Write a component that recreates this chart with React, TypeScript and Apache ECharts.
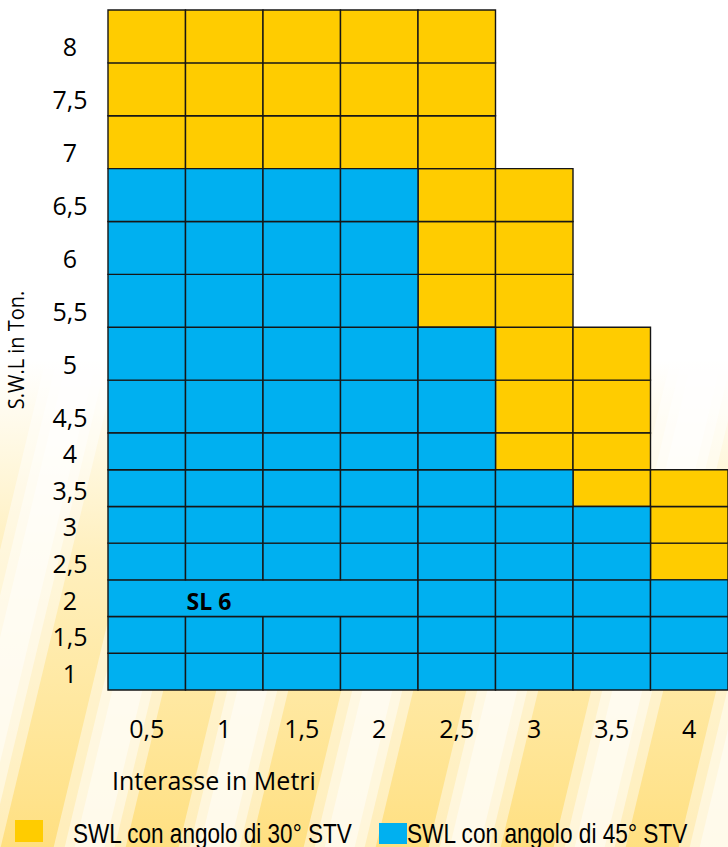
import React, { useEffect, useRef } from "react";
import * as echarts from "echarts";

// ---- data ----
const intervals = ["0,5", "1", "1,5", "2", "2,5", "3", "3,5", "4"];
const levels = [1, 1.5, 2, 2.5, 3, 3.5, 4, 4.5, 5, 5.5, 6, 6.5, 7, 7.5, 8];
const levelLabels = ["1", "1,5", "2", "2,5", "3", "3,5", "4", "4,5", "5", "5,5", "6", "6,5", "7", "7,5", "8"];
// highest SWL (t) per interval for each sling angle
const maxSwl45 = [6.5, 6.5, 6.5, 6.5, 5, 3.5, 3, 2];
const maxSwl30 = [8, 8, 8, 8, 8, 6.5, 5, 3.5];
// merged cell
const mergedLevel = 2;
const mergedCols = [0, 3];
const mergedLabel = "SL 6";
const seriesNames = ["SWL con angolo di 30° STV", "SWL con angolo di 45° STV"];
const axisNames = { x: "Interasse in Metri", y: "S.W.L in Ton." };

// ---- layout / style ----
const YELLOW = "#FFCC00";
const BLUE = "#00B0F0";
const LINE = "#161616";
const FONT = "'Open Sans', sans-serif";
const NARROW = "'Liberation Sans', Arial, sans-serif";
const TALL_FROM = 4.5; // rows from this level up are drawn taller

const topRows = levels.map((_, i) => i).filter((i) => levels[i] >= TALL_FROM);
const botRows = levels.map((_, i) => i).filter((i) => levels[i] < TALL_FROM);

function buildCells(rows: number[], kind: "30" | "45") {
  const out: any[] = [];
  rows.forEach((li, r) => {
    const L = levels[li];
    for (let c = 0; c < intervals.length; c++) {
      const k = L <= maxSwl45[c] ? "45" : L <= maxSwl30[c] ? "30" : null;
      if (k !== kind) continue;
      if (L === mergedLevel && c >= mergedCols[0] && c <= mergedCols[1]) {
        if (c === mergedCols[0]) out.push([mergedCols[0], r, mergedCols[1], 1]);
        continue;
      }
      out.push([c, r, c, 0]);
    }
  });
  return out;
}

const renderCell = (params: any, api: any) => {
  const c0 = api.value(0);
  const r = api.value(1);
  const c1 = api.value(2);
  const hasLabel = api.value(3) === 1;
  const p0 = api.coord([c0, r]);
  const p1 = api.coord([c1, r]);
  const size = api.size([1, 1]);
  const x = p0[0] - size[0] / 2;
  const y = p0[1] - size[1] / 2;
  const w = p1[0] - p0[0] + size[0];
  const children: any[] = [
    {
      type: "rect",
      shape: { x, y, width: w, height: size[1] },
      style: { fill: api.visual("color"), stroke: LINE, lineWidth: 1.4 },
    },
  ];
  if (hasLabel) {
    children.push({
      type: "text",
      x: x + size[0] + 1,
      y: p0[1] + 3,
      style: {
        text: mergedLabel,
        fill: "#000",
        font: `bold 23px ${FONT}`,
        align: "left",
        verticalAlign: "middle",
      },
    });
  }
  return { type: "group", children };
};

function bgGraphics() {
  const els: any[] = [
    { type: "rect", z: -20, shape: { x: 0, y: 0, width: 728, height: 847 }, style: { fill: "#ffffff" } },
    {
      type: "rect",
      z: -19,
      shape: { x: 0, y: 360, width: 728, height: 487 },
      style: {
        fill: new echarts.graphic.LinearGradient(0, 0, 0, 1, [
          { offset: 0, color: "rgba(255,226,130,0)" },
          { offset: 0.4, color: "rgba(255,224,125,0.5)" },
          { offset: 1, color: "rgba(255,220,115,0.9)" },
        ]),
      },
    },
  ];
  const slope = 0.24;
  const y0 = 360;
  const y1 = 847;
  for (let cx = -250; cx <= 1000; cx += 125) {
    [72, 50, 30].forEach((wd, k) => {
      const xt = cx + (700 - y0) * slope;
      const xb = cx + (700 - y1) * slope;
      els.push({
        type: "polygon",
        z: -18 + k,
        shape: {
          points: [
            [xt - wd / 2, y0],
            [xt + wd / 2, y0],
            [xb + wd / 2, y1],
            [xb - wd / 2, y1],
          ],
        },
        style: { fill: "rgba(255,255,255,0.45)" },
      });
    });
  }
  return els;
}

export default function App() {
  const ref = useRef<HTMLDivElement>(null);
  useEffect(() => {
    document.body.style.margin = "0";
    const chart = echarts.init(ref.current!, null, { renderer: "svg" });
    const labelBase = { fontSize: 25, fontFamily: FONT, color: "#000", interval: 0 };
    const option: any = {
      animation: false,
      backgroundColor: "transparent",
      grid: [
        { left: 108, top: 10, width: 626, height: 423 },
        { left: 108, top: 433, width: 626, height: 257 },
      ],
      xAxis: [
        { type: "category", gridIndex: 0, data: intervals, show: false },
        {
          type: "category",
          gridIndex: 1,
          data: intervals,
          axisLine: { show: false },
          axisTick: { show: false },
          splitLine: { show: false },
          axisLabel: { ...labelBase, margin: 38, verticalAlign: "middle" },
        },
      ],
      yAxis: [
        {
          type: "category",
          gridIndex: 0,
          data: topRows.map((i) => levelLabels[i]),
          axisLine: { show: false },
          axisTick: { show: false },
          splitLine: { show: false },
          axisLabel: { ...labelBase, align: "center", margin: 38, verticalAlign: "top", lineHeight: 20 },
        },
        {
          type: "category",
          gridIndex: 1,
          data: botRows.map((i) => levelLabels[i]),
          axisLine: { show: false },
          axisTick: { show: false },
          splitLine: { show: false },
          axisLabel: { ...labelBase, align: "center", margin: 38, verticalAlign: "top", lineHeight: 3 },
        },
      ],
      series: [
        { type: "custom", name: seriesNames[0], xAxisIndex: 0, yAxisIndex: 0, itemStyle: { color: YELLOW }, renderItem: renderCell, data: buildCells(topRows, "30"), z: 3 },
        { type: "custom", name: seriesNames[1], xAxisIndex: 0, yAxisIndex: 0, itemStyle: { color: BLUE }, renderItem: renderCell, data: buildCells(topRows, "45"), z: 3 },
        { type: "custom", name: seriesNames[0], xAxisIndex: 1, yAxisIndex: 1, itemStyle: { color: YELLOW }, renderItem: renderCell, data: buildCells(botRows, "30"), z: 3 },
        { type: "custom", name: seriesNames[1], xAxisIndex: 1, yAxisIndex: 1, itemStyle: { color: BLUE }, renderItem: renderCell, data: buildCells(botRows, "45"), z: 4 },
      ],
      graphic: [
        ...bgGraphics(),
        {
          type: "text",
          z: 50,
          x: 16,
          y: 350,
          rotation: Math.PI / 2,
          scaleX: 0.95,
          style: { text: axisNames.y, font: `21px ${FONT}`, fill: "#000", align: "center", verticalAlign: "middle" },
        },
        {
          type: "text",
          z: 50,
          x: 112,
          y: 780,
          style: { text: axisNames.x, font: `25px ${FONT}`, fill: "#000", align: "left", verticalAlign: "middle" },
        },
        { type: "rect", z: 50, shape: { x: 15, y: 820, width: 28, height: 22 }, style: { fill: YELLOW } },
        {
          type: "text",
          z: 50,
          x: 73,
          y: 833,
          scaleX: 0.835,
          style: { text: seriesNames[0], font: `27px ${NARROW}`, fill: "#000", align: "left", verticalAlign: "middle" },
        },
        { type: "rect", z: 50, shape: { x: 379, y: 823, width: 28, height: 21 }, style: { fill: BLUE } },
        {
          type: "text",
          z: 50,
          x: 407,
          y: 833,
          scaleX: 0.84,
          style: { text: seriesNames[1], font: `27px ${NARROW}`, fill: "#000", align: "left", verticalAlign: "middle" },
        },
      ],
    };
    chart.setOption(option);
    return () => chart.dispose();
  }, []);
  return <div ref={ref} style={{ width: 728, height: 847 }} />;
}
